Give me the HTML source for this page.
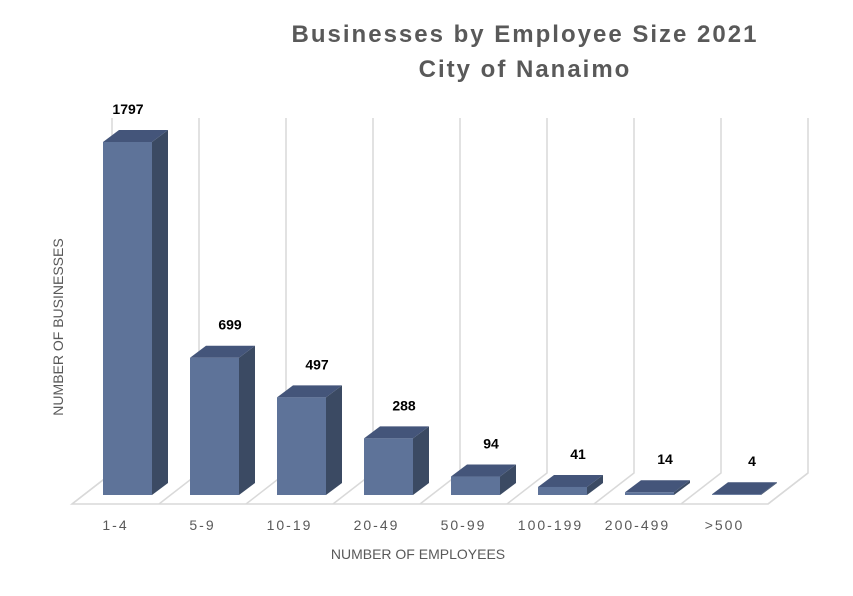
<!DOCTYPE html>
<html><head><meta charset="utf-8"><style>
body{margin:0;background:#fff}
svg{display:block;font-family:"Liberation Sans",sans-serif}
</style></head><body>
<svg id="chart" width="853" height="596">
<text x="525" y="42" text-anchor="middle" font-size="24" font-weight="bold" fill="#595959" letter-spacing="2">Businesses by Employee Size 2021</text>
<text x="525" y="77" text-anchor="middle" font-size="24" font-weight="bold" fill="#595959" letter-spacing="2">City of Nanaimo</text>
<g id="grid"></g><g id="bars"></g><g id="labels"></g>
<text x="418" y="559" text-anchor="middle" font-size="14" fill="#595959">NUMBER OF EMPLOYEES</text>
<text transform="translate(63,327) rotate(-90)" text-anchor="middle" font-size="14" fill="#595959">NUMBER OF BUSINESSES</text>
</svg>
<script>
const categories=["1-4","5-9","10-19","20-49","50-99","100-199","200-499",">500"];
const values=[1797,699,497,288,94,41,14,4];
const NS="http://www.w3.org/2000/svg";
const x0=72,cw=87,frontY=504,backY=473,bdx=40,gridTop=118;
const base=495,scale=353/1797;
function xf(i){return x0+i*cw;}
function yv(v){return base-v*scale;}
function mk(t,a,p){const e=document.createElementNS(NS,t);for(const k in a)e.setAttribute(k,a[k]);p.appendChild(e);return e;}
const grid=document.getElementById('grid'),bars=document.getElementById('bars'),labels=document.getElementById('labels');
let fl=mk('polyline',{points:`${x0+bdx},${backY} ${x0},${frontY} ${xf(8)},${frontY} ${xf(8)+bdx},${backY}`,fill:'none',stroke:'#d9d9d9','stroke-width':1.5},grid);


for(let i=0;i<=8;i++){
 const g=mk('polyline',{points:`${xf(i)},${frontY} ${xf(i)+bdx},${backY} ${xf(i)+bdx},${gridTop}`,fill:'none',stroke:'#d9d9d9','stroke-width':1.5},grid);
 
 
}
const bw=49,dx=16,dy=12;
values.forEach((v,i)=>{
 const l=xf(i)+31,t=yv(v),r=l+bw;
 const g=mk('g',{},bars);
 
 
 mk('polygon',{points:`${r},${t} ${r+dx},${t-dy} ${r+dx},${base-dy} ${r},${base}`,fill:'#3b4a63'},g);
 mk('polygon',{points:`${l},${t} ${l+dx},${t-dy} ${r+dx},${t-dy} ${r},${t}`,fill:'#44557a'},g);
 mk('rect',{x:l,y:t,width:bw,height:Math.max(base-t,0.5),fill:'#5e7399'},g);
 const vl=mk('text',{x:i==0?l+25:l+40,y:t-28,'text-anchor':'middle','font-size':14,'font-weight':'bold',fill:'#000'},labels);
 vl.textContent=v;
 
 
 const c=mk('text',{x:xf(i)+cw/2,y:530,'text-anchor':'middle','font-size':14,fill:'#595959','letter-spacing':2},labels);
 c.textContent=categories[i].replace(/-/g,'-');
 
 
});
</script>
</body></html>
